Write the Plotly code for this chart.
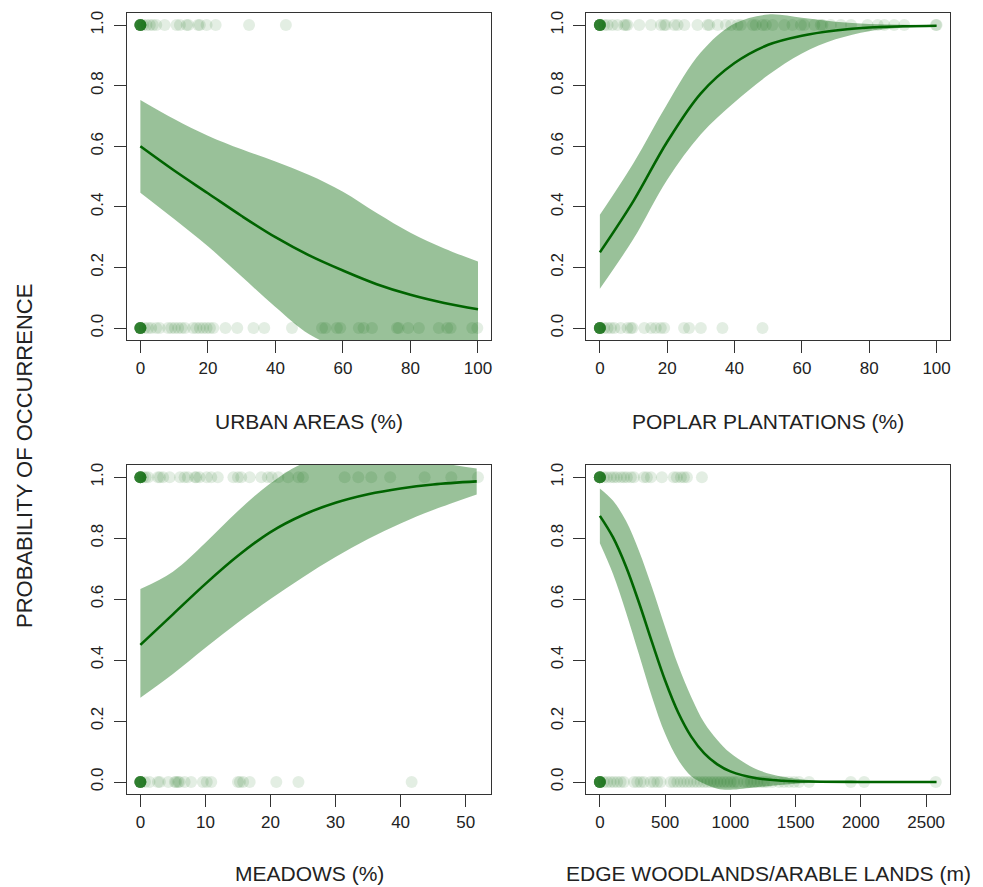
import plotly.graph_objects as go

# ---------------- data ----------------
# Panel 1: URBAN AREAS (%)
urban_x = [0, 10, 20, 30, 40, 50, 60, 70, 80, 90, 100]
urban_fit = [0.60, 0.52, 0.445, 0.37, 0.30, 0.24, 0.19, 0.145, 0.11, 0.083, 0.062]
urban_upper = [0.753, 0.69, 0.635, 0.59, 0.55, 0.505, 0.45, 0.38, 0.315, 0.263, 0.22]
urban_lower = [0.447, 0.36, 0.27, 0.17, 0.07, -0.02, -0.07, -0.09, -0.095, -0.097, -0.096]
urban_pres = [0]*14 + [0.8, 1.8, 2.8, 3.7, 4.7, 7.2, 10.7, 11.7, 13.7, 14.2, 17.1, 17.6, 19.6, 22.3, 32.2, 43.1]
urban_abs = [0]*14 + [1.3, 2.3, 3.2, 4.7, 5.7, 8.2, 9.2, 10.2, 11.2, 12.2, 13.2, 15.6, 16.6, 17.6, 18.6,
                      19.6, 20.6, 21.6, 25.2, 28.7, 33.5, 36.7, 44.9, 53.8, 54.8, 58.2, 59.2, 64.7, 66.1,
                      68.6, 76.0, 76.5, 79.3, 82.5, 88.4, 90.9, 91.9, 98.3, 99.8]

# Panel 2: POPLAR PLANTATIONS (%)
poplar_x = [0, 10, 20, 30, 40, 50, 60, 70, 80, 90, 100]
poplar_fit = [0.25, 0.42, 0.615, 0.775, 0.875, 0.935, 0.965, 0.982, 0.992, 0.996, 0.998]
poplar_upper = [0.374, 0.545, 0.74, 0.91, 1.005, 1.035, 1.024, 1.011, 1.004, 1.001, 1.0]
poplar_lower = [0.13, 0.295, 0.49, 0.64, 0.745, 0.835, 0.906, 0.953, 0.98, 0.991, 0.996]
poplar_pres = [0]*14 + [1.3, 2.3, 3.7, 5.2, 7.2, 7.7, 8.2, 11.7, 15.2, 18.1, 19.1, 19.6, 22.1, 23.1, 25.1,
                        29.0, 32.0, 32.5, 35.0, 37.4, 39.0, 40.9, 41.9, 45.4, 46.3, 48.3, 49.3, 51.3, 54.8,
                        57.2, 59.7, 60.7, 63.7, 65.6, 66.1, 68.6, 71.6, 74.6, 79.5, 82.5, 84.5, 87.4, 90.4,
                        99.8, 100.0]
poplar_abs = [0]*14 + [1.3, 2.3, 3.3, 4.3, 6.2, 8.2, 9.2, 9.7, 13.2, 15.2, 16.6, 18.1, 19.1, 25.0, 26.5,
                       30.0, 36.4, 48.3]

# Panel 3: MEADOWS (%)
meadow_x = [0, 5, 10, 15, 20, 25, 30, 35, 40, 45, 51.7]
meadow_fit = [0.45, 0.55, 0.65, 0.742, 0.82, 0.876, 0.916, 0.944, 0.963, 0.976, 0.986]
meadow_upper = [0.633, 0.69, 0.785, 0.889, 0.98, 1.045, 1.07, 1.075, 1.065, 1.05, 1.028]
meadow_lower = [0.276, 0.354, 0.44, 0.523, 0.60, 0.672, 0.738, 0.797, 0.848, 0.892, 0.943]
meadow_pres = [0]*14 + [0.4, 0.8, 1.2, 2.7, 3.0, 3.5, 4.5, 6.1, 6.8, 7.3, 8.4, 8.6, 9.1, 10.2, 10.9, 11.9,
                        14.3, 15.0, 15.5, 16.8, 18.6, 19.6, 20.2, 21.2, 22.7, 24.3, 25.0, 31.4, 33.5, 35.5,
                        38.4, 43.7, 47.8, 51.9]
meadow_abs = [0]*14 + [0.7, 1.4, 2.7, 3.0, 4.3, 5.3, 5.5, 5.8, 6.0, 6.8, 7.8, 9.6, 10.2, 10.9, 15.0, 15.3,
                       15.8, 16.8, 20.9, 24.3, 41.7]

# Panel 4: EDGE WOODLANDS/ARABLE LANDS (m)
edge_x = [0, 100, 200, 300, 400, 500, 600, 700, 800, 900, 1000, 1200, 1400, 1600, 2000, 2580]
edge_fit = [0.873, 0.803, 0.707, 0.588, 0.458, 0.333, 0.228, 0.149, 0.094, 0.058, 0.035, 0.0125, 0.0044,
            0.0015, 0.0002, 0.0]
edge_upper = [0.963, 0.923, 0.857, 0.758, 0.638, 0.508, 0.383, 0.279, 0.194, 0.138, 0.095, 0.042, 0.017,
              0.0065, 0.001, 0.0]
edge_lower = [0.783, 0.683, 0.557, 0.418, 0.278, 0.158, 0.073, 0.019, -0.006, -0.022, -0.025, -0.017,
              -0.009, -0.0035, -0.0006, 0.0]
edge_pres = [0]*14 + [31, 54, 84, 107, 130, 161, 184, 207, 238, 261, 337, 360, 391, 475, 567, 590, 621,
                      644, 667, 782]
edge_abs = [0]*14 + [31, 56, 82, 107, 133, 159, 184, 261, 286, 312, 337, 389, 414, 440, 465, 542, 567,
                     593, 619, 644, 670, 695, 721, 746, 772, 798, 823, 849, 874, 900, 925, 951, 976, 1002,
                     1028, 1053, 1104, 1130, 1156, 1181, 1206, 1232, 1258, 1283, 1321, 1373, 1411, 1449,
                     1488, 1526, 1603, 1923, 2025, 2574]

x_titles = ["URBAN AREAS (%)", "POPLAR PLANTATIONS (%)", "MEADOWS (%)", "EDGE WOODLANDS/ARABLE LANDS (m)"]
y_title = "PROBABILITY OF OCCURRENCE"
y_ticks = [0.0, 0.2, 0.4, 0.6, 0.8, 1.0]
x_ticks = [[0, 20, 40, 60, 80, 100], [0, 20, 40, 60, 80, 100],
           [0, 10, 20, 30, 40, 50], [0, 500, 1000, 1500, 2000, 2500]]

# ---------------- figure ----------------
W, H = 983, 887
FONT = "Liberation Sans, Arial, sans-serif"
GREEN = "#006400"
BAND = "rgba(0,100,0,0.40)"
PTS = "rgba(0,100,0,0.11)"

panels = [
    (urban_x, urban_fit, urban_upper, urban_lower, urban_pres, urban_abs),
    (poplar_x, poplar_fit, poplar_upper, poplar_lower, poplar_pres, poplar_abs),
    (meadow_x, meadow_fit, meadow_upper, meadow_lower, meadow_pres, meadow_abs),
    (edge_x, edge_fit, edge_upper, edge_lower, edge_pres, edge_abs),
]
# pixel boxes (left, right, top, bottom)
boxes = [(127, 492, 11, 339), (587, 951, 11, 339), (127, 492, 464, 794), (587, 951, 464, 794)]

fig = go.Figure()
layout = dict(width=W, height=H, margin=dict(l=0, r=0, t=0, b=0),
              plot_bgcolor="white", paper_bgcolor="white", showlegend=False,
              font=dict(family=FONT, size=17, color="#222222"))

annotations = []
for i, (xs, fit, up, lo, pres, ab) in enumerate(panels):
    n = "" if i == 0 else str(i + 1)
    xa, ya = "x" + n, "y" + n
    l, r, t, b = boxes[i]
    xmin, xmax = min(xs + pres + ab), max(xs + pres + ab)
    ext = 0.04 * (xmax - xmin)
    fig.add_trace(go.Scatter(x=xs, y=lo, mode="lines", line=dict(width=0, shape="spline", smoothing=1),
                             xaxis=xa, yaxis=ya, hoverinfo="skip"))
    fig.add_trace(go.Scatter(x=xs, y=up, mode="lines", line=dict(width=0, shape="spline", smoothing=1),
                             fill="tonexty", fillcolor=BAND, xaxis=xa, yaxis=ya, hoverinfo="skip"))
    fig.add_trace(go.Scatter(x=pres, y=[1] * len(pres), mode="markers",
                             marker=dict(size=12, color=PTS, line=dict(width=0)), xaxis=xa, yaxis=ya))
    fig.add_trace(go.Scatter(x=ab, y=[0] * len(ab), mode="markers",
                             marker=dict(size=12, color=PTS, line=dict(width=0)), xaxis=xa, yaxis=ya))
    fig.add_trace(go.Scatter(x=xs, y=fit, mode="lines", line=dict(color=GREEN, width=2.6, shape="spline", smoothing=1),
                             xaxis=xa, yaxis=ya))
    axis_common = dict(showline=True, mirror=True, linecolor="#333333", linewidth=1.2,
                       ticks="outside", ticklen=12, tickwidth=1.2, tickcolor="#333333",
                       showgrid=False, zeroline=False, tickfont=dict(size=17, color="#222222"))
    layout["xaxis" + n] = dict(axis_common, domain=[l / W, r / W], range=[xmin - ext, xmax + ext],
                               tickvals=x_ticks[i], anchor=ya, ticklabelstandoff=0)
    layout["yaxis" + n] = dict(axis_common, domain=[1 - b / H, 1 - t / H], range=[-0.04, 1.04],
                               tickvals=y_ticks, ticktext=["%.1f" % v for v in y_ticks],
                               tickangle=-90, anchor=xa, ticklabelstandoff=4)
    ty = 420 if i < 2 else 873
    annotations.append(dict(text=x_titles[i], x=(l + r) / 2 / W, y=1 - ty / H, xref="paper", yref="paper",
                            showarrow=False, xanchor="center", yanchor="middle",
                            font=dict(size=21, family=FONT, color="#222222")))

annotations.append(dict(text=y_title, x=25 / W, y=1 - 455 / H, xref="paper", yref="paper",
                        showarrow=False, xanchor="center", yanchor="middle", textangle=-90,
                        font=dict(size=22, family=FONT, color="#222222")))
layout["annotations"] = annotations
fig.update_layout(**layout)
fig.write_html("out.html", config={"displayModeBar": False},
               post_script="document.body.style.margin='0';document.body.style.overflow='hidden';")
